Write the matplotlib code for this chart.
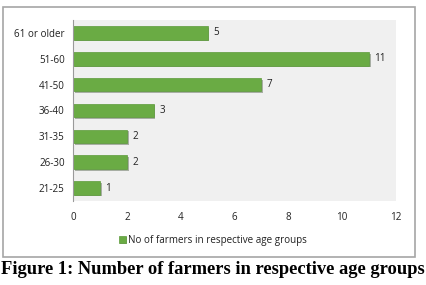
import matplotlib.pyplot as plt
from matplotlib.patches import Rectangle
import matplotlib.patheffects as pe

age_groups = ["21-25", "26-30", "31-35", "36-40", "41-50", "51-60", "61 or older"]
farmers = [1, 2, 2, 3, 7, 11, 5]
x_ticks = [0, 2, 4, 6, 8, 10, 12]

W, H = 426, 285
fig = plt.figure(figsize=(W / 100, H / 100), dpi=100)
fig.patch.set_facecolor("white")

# outer chart frame
fig.patches.append(Rectangle((3 / W, 1 - 257 / H), 412 / W, 250 / H,
                             transform=fig.transFigure, fill=False,
                             edgecolor="#a6a6a6", linewidth=1.2))

ax = fig.add_axes([73 / W, 1 - 201 / H, (396 - 73) / W, (201 - 20) / H])
ax.set_facecolor("#f0f0f0")

green = "#6aab44"
fs = 7.1
bars = ax.barh(age_groups, farmers, height=0.52, color=green,
               edgecolor="#5c9a3a", linewidth=0.5, label="No of farmers in respective age groups")
for b in bars:
    b.set_path_effects([pe.SimplePatchShadow(offset=(1.2, -1.2), alpha=0.35), pe.Normal()])

for i, v in enumerate(farmers):
    ax.text(v + 0.2, i, str(v), va="center", ha="left", fontsize=fs,
            family="Open Sans", color="#222222")

ax.set_xlim(0, 12)
ax.set_ylim(-0.5, len(age_groups) - 0.5)
ax.set_xticks(x_ticks)
ax.tick_params(axis="both", length=0, labelsize=fs, colors="#222222")
ax.tick_params(axis="x", pad=8)
ax.tick_params(axis="y", pad=6)
for lbl in ax.get_xticklabels() + ax.get_yticklabels():
    lbl.set_family("Open Sans")
for s in ["top", "right", "bottom"]:
    ax.spines[s].set_visible(False)
ax.spines["left"].set_color("#9a9a9a")
ax.spines["left"].set_linewidth(0.8)

leg = fig.legend(loc="center", bbox_to_anchor=(213 / W, 1 - 240 / H), frameon=False,
                 prop={"family": "Open Sans", "size": fs}, handlelength=0.7,
                 handleheight=0.7, handletextpad=0.3)
for t in leg.get_texts():
    t.set_color("#222222")

fig.text(213 / W, 1 - 270 / H, "Figure 1: Number of farmers in respective age groups",
         ha="center", va="center", fontsize=13.3, fontweight="bold",
         family="Liberation Serif")

fig.savefig("out.png", dpi=100)
